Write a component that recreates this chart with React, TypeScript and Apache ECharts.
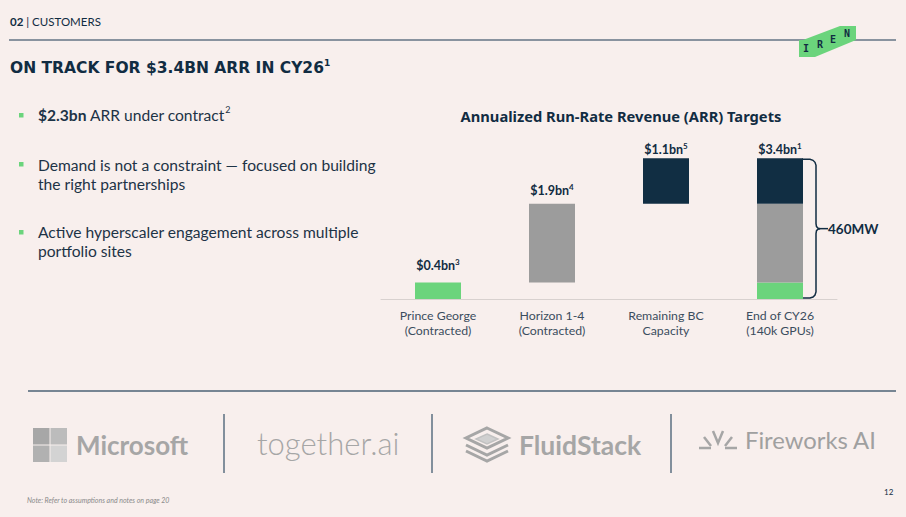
import React, { useEffect, useRef } from "react";
import * as echarts from "echarts";

const categories = [
  "Prince George\n(Contracted)",
  "Horizon 1-4\n(Contracted)",
  "Remaining BC\nCapacity",
  "End of CY26\n(140k GPUs)",
];
const baseValues = [0, 0.4, 2.3, 0];
const princeGeorge: (number | string)[] = [0.4, "-", "-", 0.4];
const horizon: (number | string)[] = ["-", 1.9, "-", 1.9];
const remainingBC: (number | string)[] = ["-", "-", 1.1, 1.1];
const barLabels = ["$0.4bn", "$1.9bn", "$1.1bn", "$3.4bn"];
const labelNotes = ["3", "4", "5", "1"];
const totalValue = 3.4;
const bracketLabel = "460MW";

const FONT = "Lato, 'Noto Sans', sans-serif";
const HFONT = "'Noto Sans', Lato, sans-serif";
const TFONT = "'DejaVu Sans', 'Noto Sans', sans-serif";
const NAVY = "#112c42";
const TEXT = "#1d3346";
const GREEN = "#6bd47c";
const GREY = "#9c9c9c";
const DARK = "#112e43";
const LOGO = "#a6a6a6";

export default function App() {
  const ref = useRef<HTMLDivElement>(null);
  useEffect(() => {
    if (!ref.current) return;
    const chart = echarts.init(ref.current, null, { renderer: "svg" });
    const seriesData = [princeGeorge, horizon, remainingBC];
    const topSeries = categories.map((_, i) => {
      let t = -1;
      seriesData.forEach((d, s) => {
        if (d[i] !== "-") t = s;
      });
      return t;
    });
    const distances = [9, 6, 1, 1];
    const rich = {
      v: { fontFamily: FONT, fontWeight: "bold", fontSize: 12.5, color: NAVY, lineHeight: 15 },
      s: { fontFamily: FONT, fontWeight: "bold", fontSize: 8, color: NAVY, lineHeight: 9, verticalAlign: "top" },
    };
    const mk = (d: (number | string)[], s: number) =>
      d.map((v, i) =>
        topSeries[i] === s
          ? {
              value: v,
              label: {
                show: true,
                position: "top",
                distance: distances[i],
                formatter: `{v|${barLabels[i]}}{s|${labelNotes[i]}}`,
                rich,
              },
            }
          : v
      );
    const names = ["Prince George", "Horizon 1-4", "Remaining BC"];
    const colors = [GREEN, GREY, DARK];
    chart.setOption({
      animation: false,
      backgroundColor: "#f8efed",
      grid: { left: 381, right: 69, top: 158.3, bottom: 218 },
      xAxis: {
        type: "category",
        data: categories,
        axisLine: { show: true, lineStyle: { color: "#d8d1cf", width: 1 } },
        axisTick: { show: false },
        axisLabel: { color: "#3b4d5e", fontFamily: FONT, fontSize: 12.3, lineHeight: 15, margin: 9 },
      },
      yAxis: { type: "value", min: 0, max: totalValue, show: false },
      series: [
        {
          type: "bar",
          stack: "w",
          barWidth: 46,
          data: baseValues,
          itemStyle: { color: "transparent" },
          silent: true,
        },
        ...seriesData.map((d, s) => ({
          type: "bar",
          name: names[s],
          stack: "w",
          barWidth: 46,
          data: mk(d, s),
          itemStyle: { color: colors[s] },
        })),
      ],
    });

    const xEnd = chart.convertToPixel({ xAxisIndex: 0 }, categories.length - 1) as number;
    const yT = chart.convertToPixel({ yAxisIndex: 0 }, totalValue) as number;
    const yB = chart.convertToPixel({ yAxisIndex: 0 }, 0) as number;
    const bx = xEnd + 23;
    const vx = bx + 13;
    const mid = (yT + yB) / 2;

    const txt = (x: number, y: number, text: string, style: any = {}) => ({
      type: "text",
      x,
      y,
      style: {
        text,
        fontFamily: FONT,
        fontSize: 15.6,
        fill: TEXT,
        verticalAlign: "middle",
        ...style,
      },
    });
    const supRich = (size: number, weight = "normal", color = TEXT, fam = FONT) => ({
      b: { fontFamily: fam, fontWeight: "bold", fontSize: size, fill: color, lineHeight: size + 4 },
      n: { fontFamily: fam, fontWeight: weight, fontSize: size, fill: color, lineHeight: size + 4 },
      s: { fontFamily: fam, fontWeight: weight, fontSize: Math.round(size * 0.6), fill: color, lineHeight: Math.round(size * 0.6) + 3, verticalAlign: "top" },
    });

    const graphics: any[] = [
      // header
      txt(10, 21, "{b|02}{n| | CUSTOMERS}", { fontSize: 11.5, rich: { b: { fontFamily: FONT, fontWeight: "bold", fontSize: 11.5, fill: NAVY }, n: { fontFamily: FONT, fontSize: 11.5, fill: NAVY } } }),
      { type: "line", shape: { x1: 9, y1: 40, x2: 896, y2: 40 }, style: { stroke: "#647585", lineWidth: 1.5 } },
      {
        type: "polygon",
        shape: { points: [[799, 40], [803, 40], [840, 26], [856, 26], [856, 40], [815, 57], [799, 57]] },
        style: { fill: GREEN },
      },
      ...["I", "R", "E", "N"].map((c, i) =>
        txt([806, 820, 833, 847][i], [48.5, 44.5, 39, 33.5][i], c, {
          fontFamily: "'DejaVu Sans Mono', monospace",
          fontWeight: "bold",
          fontSize: 10,
          fill: NAVY,
          align: "center",
        })
      ),
      // title
      txt(10, 68, "{b|ON TRACK FOR $3.4BN ARR IN CY26}{s|1}", { rich: supRich(15.5, "bold", NAVY, TFONT) }),
      // bullets
      ...[115, 164, 232].map((y) => ({ type: "rect", shape: { x: 19, y: y - 2, width: 4.5, height: 4.5 }, style: { fill: GREEN } })),
      txt(38, 115, "{b|$2.3bn}{n| ARR under contract}{s|2}", { rich: supRich(15.6) }),
      txt(38, 165, "Demand is not a constraint — focused on building"),
      txt(38, 184, "the right partnerships"),
      txt(38, 232, "Active hyperscaler engagement across multiple"),
      txt(38, 251, "portfolio sites"),
      // chart title
      txt(621, 116, "Annualized Run-Rate Revenue (ARR) Targets", { fontFamily: HFONT, fontWeight: "bold", fontSize: 14.7, fill: NAVY, align: "center" }),
      // bracket
      {
        type: "polyline",
        shape: {
          points: [
            [bx - 1, yT + 1], [vx - 6, yT + 1], [vx - 3, yT + 2], [vx - 1, yT + 4], [vx, yT + 7],
            [vx, mid - 5], [vx + 0.5, mid - 2], [vx + 2, mid - 0.5], [vx + 4, mid],
            [vx + 2, mid + 0.5], [vx + 0.5, mid + 2], [vx, mid + 5],
            [vx, yB - 7], [vx - 1, yB - 4], [vx - 3, yB - 2], [vx - 6, yB - 1], [bx - 1, yB - 1],
          ],
        },
        style: { stroke: NAVY, lineWidth: 1.5, fill: "none" },
      },
      { type: "line", shape: { x1: vx + 3, y1: mid, x2: vx + 12, y2: mid }, style: { stroke: NAVY, lineWidth: 1.5 } },
      txt(vx + 12, mid, bracketLabel, { fontWeight: "bold", fontSize: 13.5, fill: NAVY }),
      // bottom section
      { type: "line", shape: { x1: 28, y1: 391, x2: 896, y2: 391 }, style: { stroke: "#4d6275", lineWidth: 1.5 } },
      ...[224, 432, 671].map((x) => ({ type: "line", shape: { x1: x, y1: 414, x2: x, y2: 473 }, style: { stroke: "#5b6f80", lineWidth: 1.5 } })),
      { type: "rect", shape: { x: 33, y: 428, width: 16.5, height: 16.5 }, style: { fill: "#a7a7a7" } },
      { type: "rect", shape: { x: 50.5, y: 428, width: 16.5, height: 16.5 }, style: { fill: "#bcbcbc" } },
      { type: "rect", shape: { x: 33, y: 445.5, width: 16.5, height: 16.5 }, style: { fill: "#b1b1b1" } },
      { type: "rect", shape: { x: 50.5, y: 445.5, width: 16.5, height: 16.5 }, style: { fill: "#d3d3d3" } },
      txt(76, 445, "Microsoft", { fontSize: 26, fontWeight: "bold", fill: LOGO }),
      txt(257, 443, "together.ai", { fontSize: 31, fontWeight: 300, fill: LOGO }),
      // FluidStack icon
      { type: "polygon", shape: { points: [[487, 428], [508, 438], [487, 448], [466, 438]] }, style: { fill: "none", stroke: LOGO, lineWidth: 3 } },
      { type: "polygon", shape: { points: [[487, 434], [498, 439], [487, 444], [476, 439]] }, style: { fill: "#d0d0d0", stroke: "#c2c2c2", lineWidth: 1.5 } },
      { type: "polyline", shape: { points: [[466, 445], [487, 455], [508, 445]] }, style: { fill: "none", stroke: LOGO, lineWidth: 3 } },
      { type: "polyline", shape: { points: [[466, 451], [487, 461], [508, 451]] }, style: { fill: "none", stroke: LOGO, lineWidth: 3 } },
      txt(519, 445, "FluidStack", { fontSize: 26.5, fontWeight: "bold", fill: LOGO }),
      // Fireworks icon
      { type: "polyline", shape: { points: [[699, 448], [711, 448]] }, style: { stroke: LOGO, lineWidth: 2.5 } },
      { type: "polyline", shape: { points: [[704, 437], [711, 446]] }, style: { stroke: LOGO, lineWidth: 2.5 } },
      { type: "polyline", shape: { points: [[713, 431], [718, 443], [723, 431]] }, style: { fill: "none", stroke: LOGO, lineWidth: 2.5 } },
      { type: "polyline", shape: { points: [[725, 448], [737, 448]] }, style: { stroke: LOGO, lineWidth: 2.5 } },
      { type: "polyline", shape: { points: [[732, 437], [725, 446]] }, style: { stroke: LOGO, lineWidth: 2.5 } },
      txt(745, 440, "Fireworks AI", { fontSize: 23.8, fill: "#a0a0a0" }),
      // footer
      txt(27, 500, "Note: Refer to assumptions and notes on page 20", { fontSize: 7, fontStyle: "italic", fill: "#8a8a8a" }),
      txt(884, 492, "12", { fontSize: 8, fill: NAVY }),
    ];
    chart.setOption({ graphic: graphics });
    return () => chart.dispose();
  }, []);
  return <div ref={ref} style={{ position: "fixed", left: 0, top: 0, width: 906, height: 517 }} />;
}
